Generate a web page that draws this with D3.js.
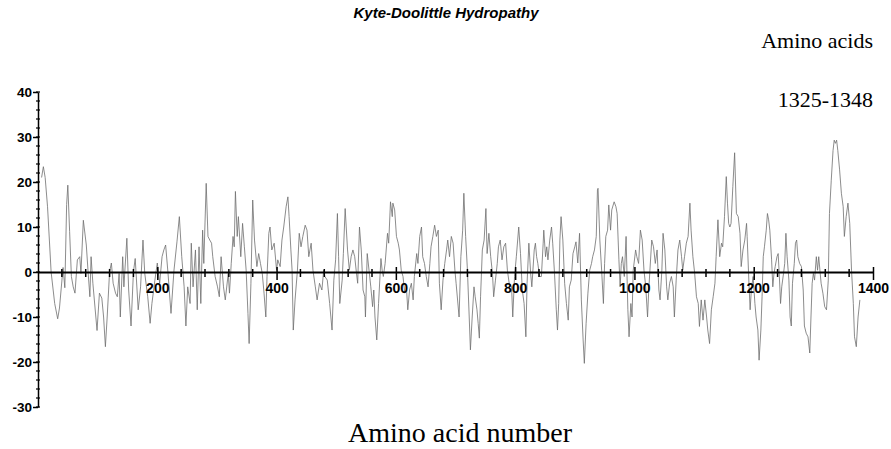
<!DOCTYPE html>
<html>
<head>
<meta charset="utf-8">
<script src="https://cdn.jsdelivr.net/npm/d3@7"></script>
<style>
	body { margin: 0; background: #fff; }
	svg { display: block; }
</style>
</head>
<body>
<div id="chart"></div>
<script>
// residue position along the sequence
const residues = [
	6, 9, 12, 16, 22, 28, 33, 36, 42, 45, 48, 50, 53, 56, 59, 62, 66, 70, 72, 76,
	81, 84, 87, 89, 92, 99, 103, 107, 110, 113, 116, 120, 123, 126, 130, 133, 136, 138, 142, 144,
	149, 152, 156, 160, 163, 168, 172, 176, 179, 184, 188, 191, 196, 200, 204, 208, 211, 214, 218, 223,
	228, 233,
	237, 241, 245, 248, 251, 255, 257, 260, 264, 267, 270, 273, 276, 278, 282, 285, 288, 291, 293, 297,
	301, 304, 307, 311, 314, 319, 321, 324, 327, 329, 331, 334, 336, 340, 343, 346, 349, 352, 354, 357,
	360, 363, 367, 370, 373, 376, 379, 382, 384, 387, 389, 392, 396, 400, 402, 406, 409, 412, 416, 419,
	421, 424, 426, 428, 431, 435, 438, 441, 444, 448, 451, 454, 458, 461, 465, 468,
	472, 476, 479, 481, 485, 489, 493, 496, 499, 502, 504, 506, 510, 512, 515, 519, 522, 525, 528, 531,
	534, 536, 539, 542, 545, 548, 549, 552, 555, 558, 561, 563, 565, 568, 571, 575, 577, 579, 582, 586,
	588, 591, 594, 595, 598, 601, 604, 606, 609, 612, 615, 618, 620, 623, 626, 629, 631, 635, 637, 640,
	643, 645, 648, 651, 654, 657, 659, 662, 665, 668, 671, 673, 676, 679, 682, 685, 687, 690, 693, 696,
	699, 701,
	706, 709, 712, 714, 717, 720, 723, 725, 728, 731, 733, 736, 738, 740, 742, 745, 748, 751, 753, 756,
	759, 762, 764, 767, 770, 772, 775, 778, 781, 784, 787, 790, 794, 796, 799, 802, 806, 809, 812, 815,
	818, 820, 823, 826, 828, 832, 834, 836, 838, 841, 844, 847, 848, 851, 853, 855, 858, 861, 863, 866,
	869, 871, 873, 875, 877, 880, 883, 886, 889, 891, 894, 897, 900, 902, 905, 908, 911, 914, 916, 919,
	922, 925, 928, 930, 933, 936, 938,
	939, 942, 945, 948, 950, 952, 955, 957, 960, 962, 966, 969, 971, 974, 976, 978, 980, 983, 986, 989,
	991, 994, 996, 998, 1002, 1004, 1007, 1010, 1013, 1016, 1019, 1022, 1024, 1026, 1029, 1032, 1035, 1038, 1041, 1043,
	1046, 1048, 1051, 1054, 1056, 1059, 1062, 1065, 1067, 1070, 1073, 1076, 1079, 1081, 1084, 1087, 1090, 1093, 1095, 1098,
	1101, 1104, 1107, 1109, 1112, 1115, 1118, 1121, 1123, 1126, 1129, 1132, 1135, 1137, 1140, 1143, 1146, 1148, 1151, 1154,
	1156, 1158, 1160, 1162, 1165, 1168, 1169, 1171,
	1174, 1177, 1179, 1182, 1185, 1188, 1189, 1192, 1194, 1196, 1199, 1202, 1204, 1207, 1209, 1212, 1214, 1216, 1218, 1221,
	1223, 1225, 1227, 1230, 1232, 1234, 1236, 1239, 1241, 1243, 1245, 1247, 1250, 1252, 1254, 1256, 1259, 1261, 1263, 1265,
	1268, 1270, 1272, 1274, 1277, 1280, 1283, 1285, 1288, 1291, 1294, 1296, 1298, 1300, 1302, 1305, 1307, 1309, 1311, 1313,
	1316, 1319, 1322, 1325, 1327, 1330, 1333, 1335, 1337, 1339, 1341, 1344, 1347, 1350, 1352, 1355, 1358, 1361, 1364, 1367,
	1369, 1372, 1375, 1378
];

// hydropathy score at each residue
const hydropathy = [
	21, 23.4, 21, 14.5, 0, -7, -10.4, -8, 1, -3.5, 15, 19.3, 9, -1, -3.3, -4.7, 2.7, 3.4, -0.3, 11.5,
	6, 0, -5.5, 3.4, -2.5, -13, -4.7, -5.8, -10, -16.6, -10, 0, 2, -2.5, -4.7, -5.5, -0.3, -10, 3.4, -3.3,
	7.5, -4, -12, 0, 3, -8.4, -3.3, 7.1, -0.3, -5.5, -11.4, -7, -1.8, 2, -2.5, 3.4, 4.9, 6, -0.3, -9.2,
	0.4, 6.7,
	12.3, 3.4, -3.3, -12, -3.3, -7, 6.4, -3.3, 4.9, -8.4, 5.6, -7, 9.3, 1.9, 19.7, 7.9, 7.1, 6.4, 3.4, -1,
	-3.3, -5.5, 3.4, -3.3, -6.2, -0.3, -4.7, 1.9, 7.9, 5.6, 17.9, 7.9, 12.3, 3.4, 10.8, 5.6, 0.4, -9.2, -15.9, -2.5,
	16, 7.1, 1.2, 4.1, 1.9, -0.3, -4.7, -10, -1, 8.6, 10, 4.9, 6.4, 0.4, 2.7, 1.2, 7.1, 10, 14.5, 16.7,
	12.3, 4.9, 0.4, -12.9, -6.2, 0.4, 8.6, 5.6, 7.9, 10.4, 9.3, 3.4, 6.4, 0.4, -3.3, -6.2,
	-2.5, -4, 0.4, -1, -1.8, -7, -12.9, -1.8, 2.7, 13, 3.4, -7, -1.8, 4.1, 14.1, 4.9, 0.4, 3.4, 4.9, 3.4,
	-0.3, -2.5, 10, 4.9, -4, -5.5, -10, 4.1, 0.4, -3.3, -7.7, -4, -10, -15.1, -7, 3, 0.4, -1, 1.9, 8.6,
	6.4, 15.6, 12.3, 15.3, 13.8, 7.9, 6.4, 4.9, 0.4, -1, -4.7, -4, -8.4, -4, -2.5, -6.2, -1, 4.1, 1.9, 7.9,
	10, 3.4, 1.9, -1, -3.3, 1.9, 5.6, 7.9, 10.4, 7.9, 9.3, -2.5, -8.4, -1.8, 1.9, 4.9, 7.1, 3.4, 7.9, 6.4,
	0.4, -2.5,
	-10, 3.4, 9.3, 17.5, 7.9, 0.4, -10, -17.3, -10, -3.3, -5.5, -8.4, -11.4, -14.7, -5.5, 4.9, 7.1, 14.1, 4.1, 8.6,
	3.4, -0.3, -5.5, -1.8, 1.9, 5.6, 7.1, 2.7, 5.6, 6.4, 0.4, -2.5, -3.3, -10, -1, 3.4, 10, 4.1, -4, -7,
	-14.4, -2.5, 6.4, -0.3, -3.3, 4.9, 6.4, 3.4, 1.9, -1, -1, 6.4, 9.3, 3.4, 5.6, 2.7, 7.1, 10, 6.4, -0.3,
	-8.4, -12.9, -7, 7.1, 12.3, 7.1, -2.5, -7, -10.7, -3.3, -1.8, 4.1, 5.6, 6.7, 2, 8.6, -6.2, -15.1, -20.3, -11.4,
	-4.7, 0.4, 1.9, 3.4, 4.9, 7.9, 18.2,
	18.6, 7.1, 0.4, -7, 1.9, 7.9, 9.3, 14.9, 9.3, 13.8, 15.6, 14.5, 13, 2.7, -3.3, 1.9, 3.4, -1, 7.9, -8.4,
	-14.4, -7, -10, 0.4, 4.9, 3.4, 1.9, 9.3, 7.1, 0.4, -3.3, -10, -4, 0.4, 7.1, 5.6, 1.9, 4.9, -4, -6.2,
	0.4, 8.6, 4.9, -3.3, -6.2, -2.5, -1, -3.3, -10, -1.8, 4.9, 7.1, 3.4, 0.4, 3.4, 6.4, 7.9, 15.3, 9.3, 3.4,
	-0.3, -5.5, -7, -12.1, -6.2, -10.7, -6.2, -10, -12.9, -15.9, -8.4, -5.5, -2.5, 3.4, 11.6, 3.4, 6.4, 5.6, 12.3, 21.2,
	15.3, 10.8, 10, 10.8, 19, 26.5, 22, 13,
	12.3, 8.6, 1.2, 4.9, 7.1, 10.8, 7.9, -2.5, -8.4, -4, -1, -7, -10, -12.9, -19.6, -12.9, -5.5, 3.4, 5.6, 9.3,
	13, 11.6, 9.3, 2.7, -3.3, -0.3, 1.2, 3.4, 4.1, -1, -7, -3.3, -0.3, 1.9, 8.6, 3.4, -1.8, -10, -12, -2.5,
	1.9, 6.4, 7.1, 3.4, 1.9, 1.2, -4, -12, -13.6, -14.4, -18, -10, -2.5, -0.3, -1.8, 3.4, 0.4, 3.4, 0.4, -2.5,
	-4.7, -7.7, -8.4, -1.8, 13, 20.4, 27, 29.3, 28.6, 29.3, 27, 22.7, 17.5, 14.5, 7.9, 12.3, 15.3, 10.8, 0.4, -7,
	-14.4, -16.6, -10, -6.2
];

const yMajorTicks = [ -30, -20, -10, 0, 10, 20, 30, 40 ];
const xMajorTicks = [ 200, 400, 600, 800, 1000, 1200, 1400 ];

const title = 'Kyte-Doolittle Hydropathy';
const noteLines = [ 'Amino acids', '1325-1348' ];
const xTitle = 'Amino acid number';

let width = 891,
	height = 449,
	svg = d3.select( '#chart' )
		.append( 'svg' )
		.attr( 'width', width )
		.attr( 'height', height ),
	x = d3.scaleLinear().domain( [ 0, 1400 ] ).range( [ 38, 873 ] ),
	y = d3.scaleLinear().domain( [ -30, 40 ] ).range( [ 407, 92 ] ),
	y0 = y( 0 ),
	boldFont = '"Liberation Sans", Arial, sans-serif',
	serifFont = '"Liberation Serif", "Times New Roman", serif',
	// plain hyphen for negatives, no thousands comma
	plain = d => String( d );

// title
svg.append( 'text' )
	.attr( 'x', 446 )
	.attr( 'y', 18 )
	.attr( 'text-anchor', 'middle' )
	.attr( 'font-family', boldFont )
	.attr( 'font-weight', 'bold' )
	.attr( 'font-style', 'italic' )
	.attr( 'font-size', '15px' )
	.text( title );

// note top right
svg.selectAll( 'text.note' )
	.data( noteLines )
	.enter()
	.append( 'text' )
	.attr( 'class', 'note' )
	.attr( 'x', 873 )
	.attr( 'y', ( d, i )=> 48 + i * 59 )
	.attr( 'text-anchor', 'end' )
	.attr( 'font-family', serifFont )
	.attr( 'font-size', '22px' )
	.text( d => d );

// data line
let line = d3.line()
	.x( ( d, i )=> x( residues[ i ] ) )
	.y( d => y( d ) );

svg.append( 'path' )
	.datum( hydropathy )
	.attr( 'fill', 'none' )
	.attr( 'stroke', '#6e6e6e' )
	.attr( 'stroke-width', 0.8 )
	.attr( 'stroke-linejoin', 'round' )
	.attr( 'd', line );

// y axis
let yAxis = svg.append( 'g' )
	.attr( 'transform', `translate(${ x( 0 ) },0)` )
	.call( d3.axisLeft( y ).tickValues( yMajorTicks ).tickFormat( plain ).tickSize( 5 ).tickSizeOuter( 0 ) );

yAxis.select( '.domain' ).attr( 'stroke-width', 1.5 );
yAxis.selectAll( '.tick line' ).attr( 'stroke-width', 1.5 );
yAxis.selectAll( '.tick text' )
	.attr( 'x', -6 )
	.attr( 'font-family', boldFont )
	.attr( 'font-weight', 'bold' )
	.attr( 'font-size', '13.5px' )
	.attr( 'fill', '#000' );

// y minor ticks every 2 units
svg.append( 'g' )
	.selectAll( 'line' )
	.data( d3.range( -30, 41, 2 ) )
	.enter()
	.append( 'line' )
	.attr( 'x1', x( 0 ) - 2 )
	.attr( 'x2', x( 0 ) + 2 )
	.attr( 'y1', d => y( d ) )
	.attr( 'y2', d => y( d ) )
	.attr( 'stroke', '#000' )
	.attr( 'stroke-width', 1.2 );

// x axis through zero
let xAxis = svg.append( 'g' )
	.attr( 'transform', `translate(0,${ y0 })` )
	.call( d3.axisBottom( x ).tickValues( xMajorTicks ).tickFormat( plain ).tickSize( 8 ).tickSizeOuter( 0 ) );

xAxis.select( '.domain' ).attr( 'stroke-width', 2 );
xAxis.selectAll( '.tick line' )
	.attr( 'y1', -5 )
	.attr( 'stroke-width', 1.5 );
xAxis.selectAll( '.tick text' )
	.attr( 'y', 11 )
	.attr( 'font-family', boldFont )
	.attr( 'font-weight', 'bold' )
	.attr( 'font-size', '14px' )
	.attr( 'fill', '#000' );

// x minor ticks every 40 residues
svg.append( 'g' )
	.selectAll( 'line' )
	.data( d3.range( 40, 1400, 40 ).filter( d => d % 200 ) )
	.enter()
	.append( 'line' )
	.attr( 'x1', d => x( d ) )
	.attr( 'x2', d => x( d ) )
	.attr( 'y1', y0 - 3 )
	.attr( 'y2', y0 + 5 )
	.attr( 'stroke', '#000' )
	.attr( 'stroke-width', 1.5 );

// x axis title
svg.append( 'text' )
	.attr( 'x', 460 )
	.attr( 'y', 442 )
	.attr( 'text-anchor', 'middle' )
	.attr( 'font-family', serifFont )
	.attr( 'font-size', '28px' )
	.text( xTitle );
</script>
</body>
</html>
